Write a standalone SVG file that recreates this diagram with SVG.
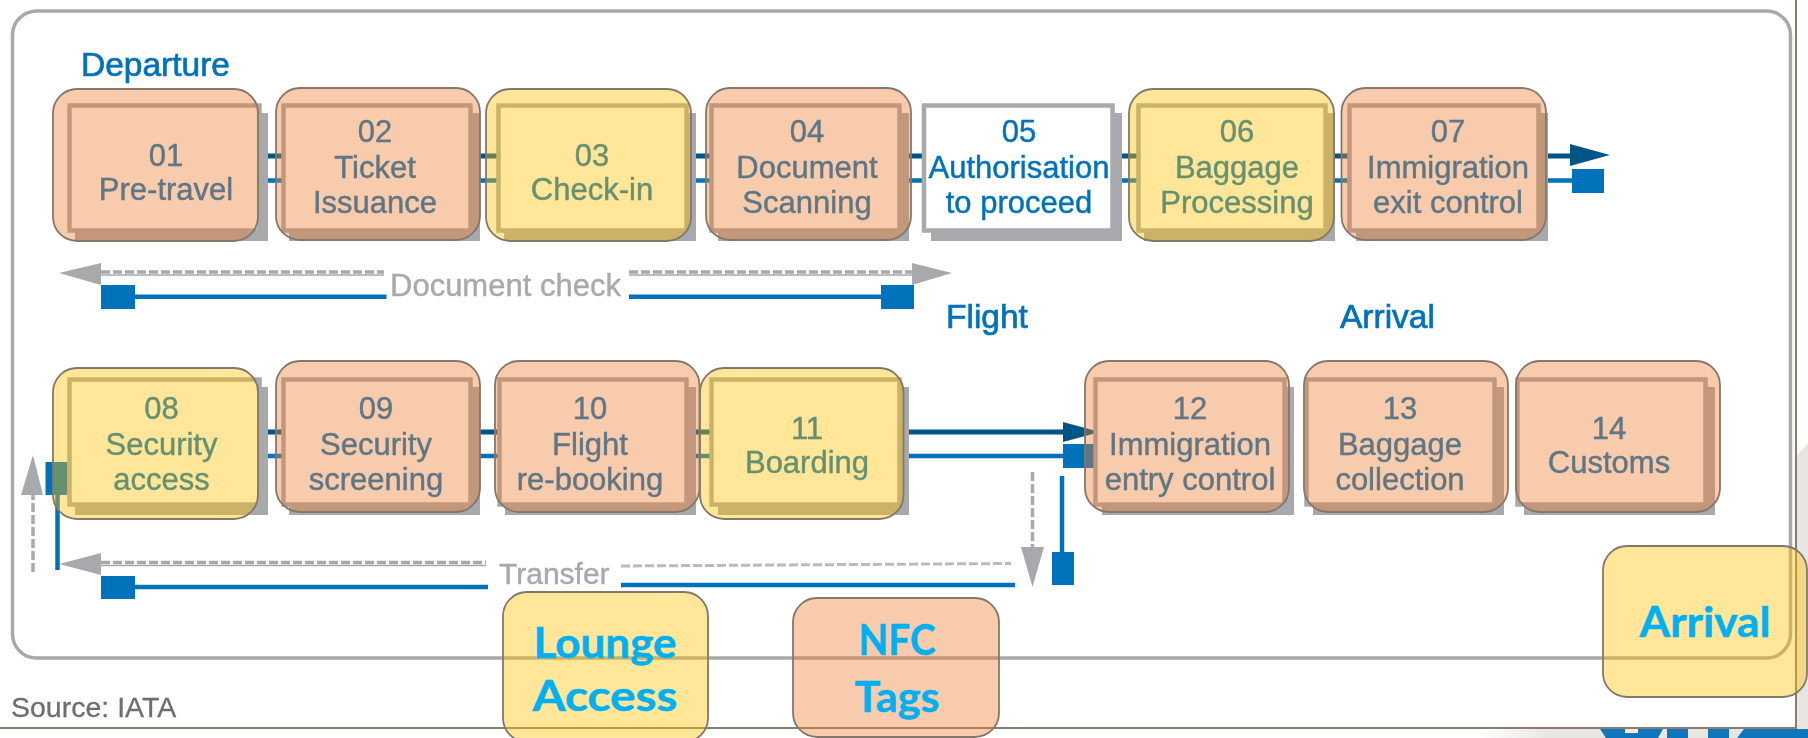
<svg xmlns="http://www.w3.org/2000/svg" width="1808" height="738" viewBox="0 0 1808 738">
<defs>
<filter id="soft" x="-5%" y="-20%" width="110%" height="140%"><feGaussianBlur stdDeviation="0.7"/></filter>
<linearGradient id="fade" x1="0" x2="1" y1="0" y2="0"><stop offset="0" stop-color="#e8e6e1" stop-opacity="0"/><stop offset="1" stop-color="#e8e6e1"/></linearGradient>
</defs>
<style>
.shadow{fill:#a7a9ac}
.frame{fill:#fff;stroke:#a7a9ac;stroke-width:4.5}
.orange{fill:#ed7d31;fill-opacity:.4;stroke:#85786a;stroke-width:1.8}
.yellow{fill:#ffc000;fill-opacity:.4;stroke:#85786a;stroke-width:1.8}
text{font-family:"Liberation Sans",Arial,sans-serif}
.lbl{font-size:31px;fill:#0072bc;stroke:#0072bc;stroke-width:.45;text-anchor:middle;filter:url(#soft)}
.head{font-size:33.5px;fill:#0072bc;stroke:#0072bc;stroke-width:.7;filter:url(#soft)}
.grey{font-size:31px;fill:#a7a9ac;stroke:#a7a9ac;stroke-width:.4;filter:url(#soft)}
.src{font-size:28.500px;fill:#6d6e71;stroke:#6d6e71;stroke-width:.3;filter:url(#soft)}
.big{font-family:Lato,"Liberation Sans",sans-serif;font-weight:700;font-size:42px;fill:#00b0f0;stroke:#00b0f0;stroke-width:.5;text-anchor:middle}
.dark{stroke:#005587;stroke-width:5;fill:none}
.blue{stroke:#0072bc;stroke-width:4.5;fill:none}
.dash{stroke:#a7a9ac;stroke-width:3.5;stroke-dasharray:9 3;fill:none}
.under{stroke:#a7a9ac;stroke-width:1.5;fill:none}
.fb{fill:#0072bc}
.fd{fill:#005587}
.fg{fill:#a7a9ac}
</style>

<g id="backdrop">
<rect x="0" y="0" width="1808" height="738" fill="#fff"/>
<rect x="1480" y="728" width="70" height="10" fill="url(#fade)"/>
<path d="M1550 738V728H1796L1796 457L1808 443V738Z" fill="#e8e6e1"/>
<path d="M1600 729H1663L1658 738H1606ZM1667 729H1688V738H1667ZM1708 729H1729V738H1708ZM1744 729H1808V738H1737Z" fill="#0f75bc"/>
<rect x="1625" y="729" width="13" height="4" fill="#f3ead9"/>
<rect x="0" y="0" width="1796" height="728" fill="#fff"/>
<path d="M0 728H1796V0" fill="none" stroke="#8a7d70" stroke-width="2"/>
<rect x="12.500" y="11" width="1778" height="647" rx="24" fill="#fff" stroke="#a7a9ac" stroke-width="3.500"/>
<text class="head" x="81" y="76">Departure</text>
<text class="head" x="946" y="328">Flight</text>
<text class="head" x="1340" y="328">Arrival</text>
<text class="src" x="11" y="717">Source: IATA</text>
<text class="grey" x="390" y="296">Document check</text>
<text class="grey" style="font-size:30px" x="499" y="584">Transfer</text>
</g>

<g id="connectors">
<path class="dark" d="M260 156H285M475 156H500M690 156H713M905 156H930M1118 156H1140M1330 156H1352M1546 156H1572"/>
<path class="blue" d="M260 180.500H285M475 180.500H500M690 180.500H713M905 180.500H930M1118 180.500H1140M1330 180.500H1352M1546 180.500H1574"/>
<path class="fd" d="M1570 144L1610 155L1570 166Z"/>
<rect class="fb" x="1572" y="169" width="32" height="24"/>
<path class="dark" d="M260 432H285M475 432H500M690 432H713M905 432H1065"/>
<path class="blue" d="M260 456H285M475 456H500M690 456H713M905 456H1065"/>
<path class="fd" d="M1063 422L1100 432L1063 442Z"/>
<rect class="fb" x="1063" y="444" width="34" height="24"/>

<path class="under" d="M101 275H384M629 275H912"/>
<path class="dash" d="M101 272H384M629 272H912"/>
<path class="fg" d="M101 263V285L59 273ZM912 263V285L952 273Z"/>
<path class="blue" d="M134 296.700H386.500M629 296.700H881"/>
<rect class="fb" x="101" y="285" width="34" height="24"/>
<rect class="fb" x="881" y="285" width="33" height="24"/>

<path class="under" d="M101 565.500H486"/>
<path class="dash" d="M101 562.500H486"/>
<path class="dash" style="stroke-width:3;stroke:#b9bbbe" d="M621 566L1011 563.500"/>
<path class="fg" d="M101 553V575L59 564Z"/>
<path class="blue" d="M134 587H488M621 585H1015"/>
<rect class="fb" x="101" y="576" width="34" height="23"/>

<path class="dash" d="M1032.500 472V548"/>
<path class="fg" d="M1021 547H1044L1032.500 587Z"/>
<path class="blue" d="M1062 476V553"/>
<rect class="fb" x="1052" y="552" width="22" height="33"/>

<path class="dash" d="M33 572V494"/>
<path class="fg" d="M21 495H43L33 455Z"/>
<path class="blue" d="M57.500 570V494"/>
<rect class="fb" x="45.500" y="462" width="22" height="33"/>
</g>

<g id="node-01">
<rect class="shadow" x="75" y="113" width="193" height="128"/><rect class="frame" x="69.500" y="105.500" width="190" height="125"/>
<text class="lbl" x="166" y="166">01</text><text class="lbl" x="166" y="199.500">Pre-travel</text>
<rect class="orange" x="53" y="89" width="205" height="152" rx="24"/>
</g>
<g id="node-02">
<rect class="shadow" x="289" y="113" width="191" height="128"/><rect class="frame" x="283.500" y="105.500" width="187" height="125"/>
<text class="lbl" x="375" y="142">02</text><text class="lbl" x="375" y="178">Ticket</text><text class="lbl" x="375" y="213">Issuance</text>
<rect class="orange" x="276" y="88" width="204" height="152" rx="24"/>
</g>
<g id="node-03">
<rect class="shadow" x="504" y="113" width="192" height="128"/><rect class="frame" x="498.500" y="105.500" width="188" height="125"/>
<text class="lbl" x="592" y="166">03</text><text class="lbl" x="592" y="199.500">Check-in</text>
<rect class="yellow" x="486" y="89" width="205" height="152" rx="24"/>
</g>
<g id="node-04">
<rect class="shadow" x="718" y="113" width="191" height="128"/><rect class="frame" x="711.500" y="105.500" width="188" height="125"/>
<text class="lbl" x="807" y="142">04</text><text class="lbl" x="807" y="178">Document</text><text class="lbl" x="807" y="213">Scanning</text>
<rect class="orange" x="706" y="88" width="205" height="152" rx="24"/>
</g>
<g id="node-05">
<rect class="shadow" x="931" y="113" width="191" height="128"/><rect class="frame" x="924" y="105.500" width="188.500" height="125"/>
<text class="lbl" x="1019" y="142">05</text><text class="lbl" x="1019" y="178">Authorisation</text><text class="lbl" x="1019" y="213">to proceed</text>
</g>
<g id="node-06">
<rect class="shadow" x="1144" y="113" width="191" height="128"/><rect class="frame" x="1138.500" y="105.500" width="187" height="125"/>
<text class="lbl" x="1237" y="142">06</text><text class="lbl" x="1237" y="178">Baggage</text><text class="lbl" x="1237" y="213">Processing</text>
<rect class="yellow" x="1129" y="89" width="205" height="152" rx="24"/>
</g>
<g id="node-07">
<rect class="shadow" x="1356" y="113" width="192" height="128"/><rect class="frame" x="1349.500" y="105.500" width="189" height="125"/>
<text class="lbl" x="1448" y="142">07</text><text class="lbl" x="1448" y="178">Immigration</text><text class="lbl" x="1448" y="213">exit control</text>
<rect class="orange" x="1341.500" y="88" width="204.500" height="152" rx="24"/>
</g>

<g id="node-08">
<rect class="shadow" x="75" y="387" width="193" height="128"/><rect class="frame" x="69.500" y="379.500" width="190" height="125"/>
<text class="lbl" x="161.500" y="419">08</text><text class="lbl" x="161.500" y="455">Security</text><text class="lbl" x="161.500" y="490">access</text>
<rect class="yellow" x="53" y="368" width="205" height="151" rx="24"/>
</g>
<g id="node-09">
<rect class="shadow" x="289" y="387" width="191" height="128"/><rect class="frame" x="283.500" y="379.500" width="187" height="125"/>
<text class="lbl" x="376" y="419">09</text><text class="lbl" x="376" y="455">Security</text><text class="lbl" x="376" y="490">screening</text>
<rect class="orange" x="276" y="361" width="204" height="151" rx="24"/>
</g>
<g id="node-10">
<rect class="shadow" x="505" y="387" width="191" height="128"/><rect class="frame" x="499.500" y="379.500" width="187" height="125"/>
<text class="lbl" x="590" y="419">10</text><text class="lbl" x="590" y="455">Flight</text><text class="lbl" x="590" y="490">re-booking</text>
<rect class="orange" x="495" y="361" width="204.500" height="151" rx="24"/>
</g>
<g id="node-11">
<rect class="shadow" x="718" y="387" width="191" height="128"/><rect class="frame" x="711.500" y="379.500" width="188" height="125"/>
<text class="lbl" x="807" y="439">11</text><text class="lbl" x="807" y="473">Boarding</text>
<rect class="yellow" x="700" y="368" width="203.500" height="151" rx="24"/>
</g>
<g id="node-12">
<rect class="shadow" x="1102" y="387" width="192" height="128"/><rect class="frame" x="1095.500" y="379.500" width="189" height="125"/>
<text class="lbl" x="1190" y="419">12</text><text class="lbl" x="1190" y="455">Immigration</text><text class="lbl" x="1190" y="490">entry control</text>
<rect class="orange" x="1085" y="361" width="204" height="151" rx="24"/>
</g>
<g id="node-13">
<rect class="shadow" x="1313" y="387" width="191" height="128"/><rect class="frame" x="1306.500" y="379.500" width="188" height="125"/>
<text class="lbl" x="1400" y="419">13</text><text class="lbl" x="1400" y="455">Baggage</text><text class="lbl" x="1400" y="490">collection</text>
<rect class="orange" x="1304" y="361" width="204" height="151" rx="24"/>
</g>
<g id="node-14">
<rect class="shadow" x="1524" y="387" width="191" height="128"/><rect class="frame" x="1517.500" y="379.500" width="188" height="125"/>
<text class="lbl" x="1609" y="439">14</text><text class="lbl" x="1609" y="473">Customs</text>
<rect class="orange" x="1516" y="361" width="204" height="151" rx="24"/>
</g>

<g id="node-lounge">
<rect class="yellow" x="503" y="592" width="205" height="150" rx="24"/>
<text class="big" x="605" y="658" textLength="143" lengthAdjust="spacingAndGlyphs">Lounge</text><text class="big" x="605" y="711" textLength="145" lengthAdjust="spacingAndGlyphs">Access</text>
</g>
<g id="node-nfc">
<rect class="orange" x="793" y="598" width="206" height="139" rx="24"/>
<text class="big" x="897" y="655" textLength="77" lengthAdjust="spacingAndGlyphs">NFC</text><text class="big" x="897" y="712" textLength="85" lengthAdjust="spacingAndGlyphs">Tags</text>
</g>
<g id="node-arrival">
<rect class="yellow" x="1603" y="546" width="204" height="151" rx="24"/>
<text class="big" x="1705" y="637" textLength="131" lengthAdjust="spacingAndGlyphs">Arrival</text>
</g>
</svg>
